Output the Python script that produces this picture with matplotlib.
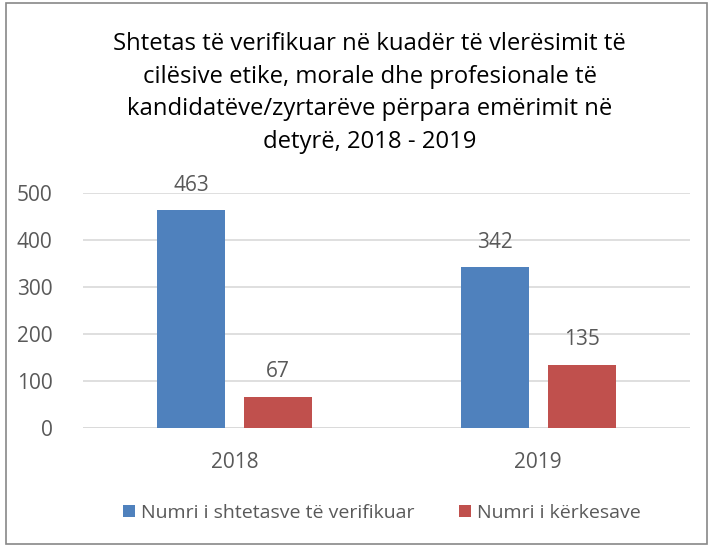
import numpy as np
import matplotlib.pyplot as plt
from matplotlib.patches import Rectangle

plt.rcParams['font.family'] = ['Open Sans', 'DejaVu Sans']

years = ["2018", "2019"]
verified = [463, 342]
requests = [67, 135]
series_names = ["Numri i shtetasve të verifikuar", "Numri i kërkesave"]
title = ("Shtetas të verifikuar në kuadër të vlerësimit të\n"
         "cilësive etike, morale dhe profesionale të\n"
         "kandidatëve/zyrtarëve përpara emërimit në\n"
         "detyrë, 2018 - 2019")

txt = "#595959"
fig = plt.figure(figsize=(7.11, 5.46), dpi=100)
ax = fig.add_axes([83/711, 1-428/546, 607/711, 235/546])

x = np.arange(len(years))
w = 0.225
b1 = ax.bar(x - 0.143, verified, w, color="#4F81BD", zorder=2, label=series_names[0])
b2 = ax.bar(x + 0.143, requests, w, color="#C0504D", zorder=2, label=series_names[1])
for bars in (b1, b2):
    for r in bars:
        ax.text(r.get_x() + r.get_width()/2, r.get_height() + 53, str(int(r.get_height())),
                ha="center", va="center", fontsize=15, color=txt)

ax.set_xlim(-0.5, 1.5)
ax.set_ylim(0, 500)
ax.set_yticks(range(0, 501, 100))
ax.yaxis.grid(True, color="#D9D9D9", linewidth=1.2, zorder=0)
ax.set_xticks(x)
ax.set_xticklabels(years)
ax.tick_params(length=0, labelsize=15, colors=txt)
ax.tick_params(axis="y", pad=22)
ax.tick_params(axis="x", pad=17)
for s in ax.spines.values():
    s.set_visible(False)
ax.axhline(0, color="#D9D9D9", linewidth=1.2, zorder=1)

fig.text(0.52, 1-93/546, title, ha="center", va="center", fontsize=17.2,
         color="black", linespacing=1.47)
fig.legend(handles=[b1, b2], loc="center", bbox_to_anchor=(0.537, 1-513/546), ncol=2,
           frameon=False, fontsize=14, labelcolor=txt, handlelength=0.6, handleheight=0.6,
           handletextpad=0.3, columnspacing=2.3)

fig.patches.append(Rectangle((6/711, 2/546), 701/711, 541/546, transform=fig.transFigure,
                             fill=False, edgecolor="#888888", linewidth=1.2))
fig.savefig("out.png", dpi=100)
